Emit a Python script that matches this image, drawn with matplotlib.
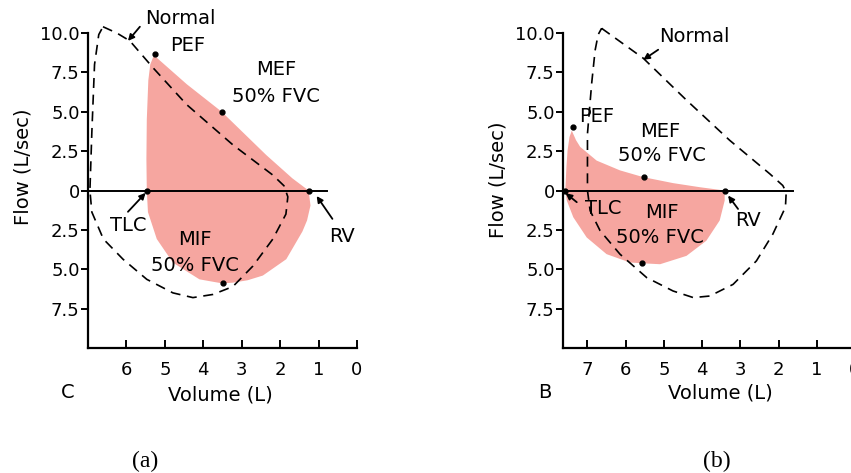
import matplotlib
matplotlib.use("Agg")
import matplotlib.pyplot as plt

plt.rcParams["font.family"] = ["DejaVu Sans"]

# flow-volume loops, volume in L, flow in L/sec (expiration positive)
a_norm_vol = [6.61, 6.25, 5.91, 5.31, 4.43, 3.23, 2.19, 1.9, 1.8, 1.85, 2.19, 2.71, 3.23, 3.75,
              4.27, 4.79, 5.47, 6.09, 6.6, 6.9, 6.95, 6.9, 6.83, 6.72, 6.61]
a_norm_flow = [10.4, 10.0, 9.5, 7.8, 5.45, 2.9, 0.98, 0.3, -0.4, -1.5, -3.08, -4.8, -6.1, -6.6,
               -6.8, -6.5, -5.64, -4.36, -3.08, -1.37, 0.0, 3.7, 8.0, 9.9, 10.4]
a_pat_vol = [5.47, 5.48, 5.47, 5.43, 5.38, 5.3, 5.22, 4.43, 3.52, 2.36, 1.68, 1.26, 1.21, 1.3,
             1.42, 1.84, 2.45, 2.85, 3.23, 3.5, 4.1, 4.79, 5.21, 5.44, 5.47]
a_pat_flow = [0.0, 2.0, 4.5, 7.0, 8.0, 8.5, 8.45, 6.75, 5.0, 2.25, 0.77, 0.0, -0.95, -1.9,
              -2.6, -4.36, -5.4, -5.7, -5.85, -5.9, -5.64, -4.58, -3.08, -1.37, 0.0]

b_norm_vol = [6.63, 5.54, 4.41, 3.28, 2.23, 1.89, 1.8, 1.82, 2.15, 2.58, 3.19, 3.8, 4.23, 4.76,
              5.45, 6.15, 6.67, 6.93, 7.0, 7.0, 6.89, 6.8, 6.72, 6.63]
b_norm_flow = [10.3, 8.4, 5.74, 3.19, 1.06, 0.32, -0.1, -1.06, -2.77, -4.47, -5.96, -6.7, -6.8, -6.38,
               -5.53, -4.04, -2.55, -1.28, 0.0, 3.6, 6.8, 8.9, 9.9, 10.3]
b_pat_vol = [7.58, 7.55, 7.52, 7.47, 7.41, 7.3, 7.19, 6.76, 6.15, 5.54, 4.76, 4.06, 3.41, 3.41,
             3.54, 3.89, 4.41, 5.1, 5.57, 5.89, 6.5, 7.02, 7.37, 7.54, 7.58]
b_pat_flow = [0.0, 1.5, 2.55, 3.4, 3.8, 3.2, 2.77, 1.9, 1.28, 0.85, 0.47, 0.21, 0.0, -0.64,
              -1.9, -3.19, -4.15, -4.68, -4.62, -4.57, -4.04, -2.98, -1.7, -0.64, 0.0]

# marked points: PEF, MEF, TLC, RV, MIF
a_dot_vol = [5.26, 3.52, 5.47, 1.26, 3.5]
a_dot_flow = [8.7, 5.0, 0.0, 0.0, -5.9]
b_dot_vol = [7.39, 5.52, 7.58, 3.41, 5.57]
b_dot_flow = [4.04, 0.85, 0.0, 0.0, -4.6]

x_ticks = [6, 5, 4, 3, 2, 1, 0]
y_ticks = [10.0, 7.5, 5.0, 2.5, 0, -2.5, -5.0, -7.5]
y_labels = ["10.0", "7.5", "5.0", "2.5", "0", "2.5", "5.0", "7.5"]

pink = "#f6a6a0"
fs = 14
tfs = 13

fig = plt.figure(figsize=(8.51, 4.73), dpi=100)
# y range -10..10.8 so the normal loop can rise above the 10.0 tick
top_px = 33 - 0.8 * 15.7
ax1 = fig.add_axes([88 / 851, 1 - 348 / 473, (357 - 88) / 851, (348 - top_px) / 473])
ax2 = fig.add_axes([563 / 851, 1 - 348 / 473, (855 - 563) / 851, (348 - top_px) / 473])


def style(ax, xmax, zero_end, ticks):
    ax.set_xlim(xmax, 0)
    ax.set_ylim(-10, 10.8)
    for s in ["top", "right"]:
        ax.spines[s].set_visible(False)
    for s in ["left", "bottom"]:
        ax.spines[s].set_linewidth(1.6)
    ax.spines["left"].set_bounds(-10, 10)
    ax.set_xticks(ticks)
    ax.set_xticklabels([str(t) for t in ticks], fontsize=tfs)
    ax.set_yticks(y_ticks)
    ax.set_yticklabels(y_labels, fontsize=tfs)
    ax.tick_params(axis="x", direction="in", length=6, width=1.4, pad=9)
    ax.tick_params(axis="y", direction="out", length=5, width=1.4, pad=1)
    ax.plot([xmax, zero_end], [0, 0], color="black", lw=1.4)


def draw(ax, nv, nf, pv, pf, dv, df):
    ax.fill(pv, pf, color=pink, lw=0)
    ax.plot(nv, nf, color="black", lw=1.2, ls=(0, (6, 4)))
    ax.plot(dv, df, "o", color="black", ms=3.5)


def arrow(ax, tail, head):
    ax.annotate("", xy=head, xytext=tail,
                arrowprops=dict(arrowstyle="-|>", color="black", lw=1.3,
                                mutation_scale=9, shrinkA=0, shrinkB=0))


def label(ax, x, y, s):
    ax.text(x, y, s, fontsize=fs, ha="center", va="center")


# panel (a)
style(ax1, 7.0, 0.77, x_ticks)
draw(ax1, a_norm_vol, a_norm_flow, a_pat_vol, a_pat_flow, a_dot_vol, a_dot_flow)
label(ax1, 4.6, 10.9, "Normal")
label(ax1, 4.4, 9.2, "PEF")
label(ax1, 2.1, 7.7, "MEF")
label(ax1, 2.1, 6.0, "50% FVC")
label(ax1, 5.95, -2.2, "TLC")
label(ax1, 0.38, -2.9, "RV")
label(ax1, 4.22, -3.1, "MIF")
label(ax1, 4.22, -4.75, "50% FVC")
arrow(ax1, (5.65, 10.4), (5.96, 9.5))
arrow(ax1, (5.96, -1.35), (5.5, -0.15))
arrow(ax1, (0.64, -1.8), (1.05, -0.35))

# panel (b)
style(ax2, 7.64, 1.63, [7] + x_ticks)
draw(ax2, b_norm_vol, b_norm_flow, b_pat_vol, b_pat_flow, b_dot_vol, b_dot_flow)
label(ax2, 4.19, 9.8, "Normal")
label(ax2, 6.76, 4.68, "PEF")
label(ax2, 5.1, 3.72, "MEF")
label(ax2, 5.06, 2.23, "50% FVC")
label(ax2, 6.58, -1.17, "TLC")
label(ax2, 5.06, -1.38, "MIF")
label(ax2, 5.1, -2.98, "50% FVC")
label(ax2, 2.8, -1.9, "RV")
arrow(ax2, (5.15, 8.94), (5.54, 8.3))
arrow(ax2, (7.28, -0.74), (7.57, -0.17))
arrow(ax2, (3.06, -1.17), (3.32, -0.32))

# axis titles and panel letters
fig.text(23 / 851, 1 - 167 / 473, "Flow (L/sec)", rotation=90, fontsize=fs, ha="center", va="center")
fig.text(498 / 851, 1 - 180 / 473, "Flow (L/sec)", rotation=90, fontsize=fs, ha="center", va="center")
fig.text(220 / 851, 1 - 395 / 473, "Volume (L)", fontsize=fs, ha="center", va="center")
fig.text(720 / 851, 1 - 393 / 473, "Volume (L)", fontsize=fs, ha="center", va="center")
fig.text(68 / 851, 1 - 392 / 473, "C", fontsize=fs, ha="center", va="center")
fig.text(545 / 851, 1 - 392 / 473, "B", fontsize=fs, ha="center", va="center")
fig.text(145 / 851, 1 - 461 / 473, "(a)", fontsize=17, ha="center", va="center", family="Liberation Serif")
fig.text(717 / 851, 1 - 461 / 473, "(b)", fontsize=17, ha="center", va="center", family="Liberation Serif")

fig.savefig("out.png", dpi=100)
